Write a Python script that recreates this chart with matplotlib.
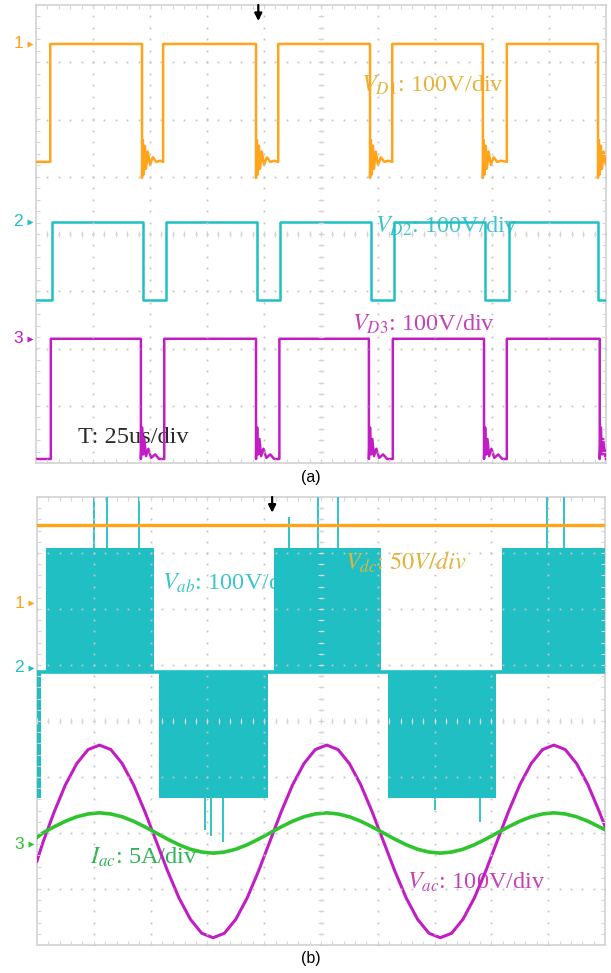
import numpy as np
import matplotlib.pyplot as plt
from matplotlib.transforms import blended_transform_factory

plt.rcParams['mathtext.fontset'] = 'stix'

# scope channel colours
ORANGE = '#ffa41b'
CYAN = '#1fbfc4'
MAGENTA = '#c21dc4'
GREEN = '#2ec42e'
GRID = '#c4c4c4'

# ---------------- panel (a): switch voltages, T = 25us/div ----------------
# time in divisions (0..10), level in divisions (-4..4)
d1_rise = [0.25, 2.23, 4.25, 6.25, 8.26]
d1_fall = [1.86, 3.86, 5.86, 7.84, 9.86]
d1_high, d1_low = 3.32, 1.26
d1_ring_dt = [0.0, 0.015, 0.03, 0.05, 0.07, 0.10, 0.14, 0.19, 0.25, 0.32]
d1_ring_dv = [-0.28, 0.38, -0.22, 0.28, -0.12, 0.18, -0.05, 0.08, 0.0, 0.02]

d2_rise = [0.28, 2.28, 4.28, 6.28, 8.30]
d2_fall = [1.88, 3.88, 5.88, 7.87, 9.86]
d2_high, d2_low = 0.21, -1.15

d3_rise = [0.26, 2.25, 4.27, 6.26, 8.26]
d3_fall = [1.84, 3.86, 5.84, 7.86, 9.89]
d3_high, d3_low = -1.83, -3.93
d3_ring_dt = [0.0, 0.02, 0.04, 0.06, 0.09, 0.13, 0.18, 0.25, 0.32]
d3_ring_dv = [0.0, 0.55, 0.08, 0.35, 0.05, 0.18, 0.02, 0.08, 0.0]

# ---------------- panel (b): converter waveforms ----------------
vdc_level = 3.5
vab_zero, vab_pos, vab_neg = 0.875, 3.09, -1.375
vab_pos_blocks = [(0.16, 2.06), (4.17, 6.06), (8.19, 10.0)]
vab_neg_blocks = [(0.0, 0.07), (2.15, 4.07), (6.18, 8.08)]
vab_up_spikes_t = [1.00, 1.23, 1.80, 4.44, 4.95, 5.30, 8.98, 9.28]
vab_up_spikes_v = [4.0, 4.0, 4.0, 3.64, 4.0, 4.0, 4.0, 4.0]
vab_dn_spikes_t = [2.96, 3.06, 3.27, 7.01, 7.80]
vab_dn_spikes_v = [-1.95, -2.06, -2.16, -1.59, -1.80]

t_ac = [0.0, 0.1, 0.3, 0.5, 0.7, 0.9, 1.1, 1.3, 1.5, 1.7, 1.9,
        2.1, 2.3, 2.5, 2.7, 2.9, 3.1, 3.3, 3.5, 3.7, 3.9,
        4.1, 4.3, 4.5, 4.7, 4.9, 5.1, 5.3, 5.5, 5.7, 5.9,
        6.1, 6.3, 6.5, 6.7, 6.9, 7.1, 7.3, 7.5, 7.7, 7.9,
        8.1, 8.3, 8.5, 8.7, 8.9, 9.1, 9.3, 9.5, 9.7, 9.9, 10.0]
v_ac = [-2.50, -2.18, -1.63, -1.14, -0.76, -0.51, -0.43, -0.51, -0.76, -1.14, -1.62,
        -2.15, -2.68, -3.16, -3.54, -3.79, -3.87, -3.79, -3.54, -3.16, -2.68,
        -2.15, -1.62, -1.14, -0.76, -0.51, -0.43, -0.51, -0.76, -1.14, -1.62,
        -2.15, -2.68, -3.16, -3.54, -3.79, -3.87, -3.79, -3.54, -3.16, -2.68,
        -2.15, -1.62, -1.14, -0.76, -0.51, -0.43, -0.51, -0.76, -1.14, -1.62, -1.88]
i_ac = [-2.08, -2.00, -1.89, -1.79, -1.71, -1.66, -1.64, -1.66, -1.71, -1.79, -1.89,
        -2.00, -2.11, -2.21, -2.29, -2.34, -2.36, -2.34, -2.29, -2.21, -2.11,
        -2.00, -1.89, -1.79, -1.71, -1.66, -1.64, -1.66, -1.71, -1.79, -1.89,
        -2.00, -2.11, -2.21, -2.29, -2.34, -2.36, -2.34, -2.29, -2.21, -2.11,
        -2.00, -1.89, -1.79, -1.71, -1.66, -1.64, -1.66, -1.71, -1.79, -1.89, -1.94]


def square(rise, fall, high, low, ring_dt=(0.0,), ring_dv=(0.0,)):
    t, v = [0.0], [low]
    for r, f in zip(rise, fall):
        t += [r, r, f]
        v += [low, high, high]
        for dt, dv in zip(ring_dt, ring_dv):
            t.append(f + dt)
            v.append(low + dv)
    t.append(10.0)
    v.append(low)
    return t, v


def graticule(ax):
    ax.set_xlim(0, 10)
    ax.set_ylim(-4, 4)
    ax.set_xticks([])
    ax.set_yticks([])
    for s in ax.spines.values():
        s.set_color('#d2d2d2')
        s.set_linewidth(1.2)
    xs = np.arange(0, 10.01, 0.2)
    ys = np.arange(-4, 4.01, 0.2)
    dot = dict(ls='none', marker='s', ms=1.3, mec='none', color=GRID, zorder=6)
    for i in range(1, 10):
        ax.plot(np.full(len(ys), i), ys, **dot)
    for j in range(-3, 4):
        ax.plot(xs, np.full(len(xs), j), **dot)
    kw = dict(color='#d6d6d6', lw=0.8, zorder=6)
    # centre cross minor ticks
    ax.vlines(xs, -0.045, 0.045, **kw)
    ax.hlines(ys, 4.955, 5.045, **kw)
    # border ticks
    ax.vlines(xs, -4, -3.93, **kw)
    ax.vlines(xs, 3.93, 4, **kw)
    ax.hlines(ys, 0, 0.07, **kw)
    ax.hlines(ys, 9.93, 10, **kw)


def channel_mark(ax, label, level, color):
    tr = blended_transform_factory(ax.transAxes, ax.transData)
    ax.text(-0.031, level, label, transform=tr, color=color, fontsize=12.5,
            family='Liberation Sans', ha='center', va='center', clip_on=False)
    ax.plot([-0.011], [level], transform=tr, marker='>', ms=5, color=color,
            mec='none', clip_on=False)


def trigger(ax, t):
    ax.annotate('', xy=(t, 3.72), xytext=(t, 4.0),
                arrowprops=dict(arrowstyle='-|>', color='black', lw=1.6,
                                mutation_scale=11, shrinkA=0, shrinkB=0),
                annotation_clip=False, zorder=8)


fig = plt.figure(figsize=(6.11, 9.73), dpi=100)
ax1 = fig.add_axes([36 / 611, 1 - 463 / 973, 570 / 611, 458 / 973])
ax2 = fig.add_axes([37 / 611, 1 - 945 / 973, 568 / 611, 448 / 973])

# ---- panel (a)
graticule(ax1)
t, v = square(d1_rise, d1_fall, d1_high, d1_low, d1_ring_dt, d1_ring_dv)
ax1.plot(t, v, color=ORANGE, lw=1.8, zorder=5)
t, v = square(d2_rise, d2_fall, d2_high, d2_low)
ax1.plot(t, v, color=CYAN, lw=1.8, zorder=5)
t, v = square(d3_rise, d3_fall, d3_high, d3_low, d3_ring_dt, d3_ring_dv)
ax1.plot(t, v, color=MAGENTA, lw=1.8, zorder=5)

channel_mark(ax1, '1', d1_high, ORANGE)
channel_mark(ax1, '2', d2_high, CYAN)
channel_mark(ax1, '3', d3_high, MAGENTA)
trigger(ax1, 3.9)

lab = dict(family='Liberation Serif', fontsize=17.5, va='center', zorder=3)
ax1.text(5.70, 2.6, r'$V_{D1}$: 100V/div', color='#e2b43c', **lab)
ax1.text(5.95, 0.14, r'$V_{D2}$: 100V/div', color='#3cc4cc', **lab)
ax1.text(5.54, -1.57, r'$V_{D3}$: 100V/div', color='#c441b8', **lab)
ax1.text(0.74, -3.55, 'T: 25us/div', color='#2a2a2a', **lab)

# ---- panel (b)
graticule(ax2)
ax2.plot([0, 10], [vdc_level, vdc_level], color=ORANGE, lw=2.4, zorder=5)
ax2.plot([0, 10], [vab_zero, vab_zero], color=CYAN, lw=2.6, zorder=4)
for a, b in vab_pos_blocks:
    ax2.fill_between([a, b], vab_zero, vab_pos, color=CYAN, lw=0, zorder=4)
for a, b in vab_neg_blocks:
    ax2.fill_between([a, b], vab_neg, vab_zero, color=CYAN, lw=0, zorder=4)
ax2.vlines(vab_up_spikes_t, vab_pos, vab_up_spikes_v, color=CYAN, lw=1.3, zorder=4)
ax2.vlines(vab_dn_spikes_t, vab_dn_spikes_v, vab_neg, color=CYAN, lw=1.3, zorder=4)
ax2.plot(t_ac, v_ac, color=MAGENTA, lw=2.2, zorder=5)
ax2.plot(t_ac, i_ac, color=GREEN, lw=2.6, zorder=5)

channel_mark(ax2, '1', 2.1, ORANGE)
channel_mark(ax2, '2', 0.95, CYAN)
channel_mark(ax2, '3', -2.2, GREEN)
trigger(ax2, 4.14)

ax2.text(5.42, 2.84, r'$V_{dc}$: $50V/div$', color='#e2b43c',
         **{**lab, 'zorder': 7})
ax2.text(2.2, 2.46, r'$V_{ab}$: 100V/div', color='#3cc4cc', **lab)
ax2.text(0.93, -2.43, r'$I_{ac}$: 5A/div', color='#2fb455', **lab)
ax2.text(6.51, -2.88, r'$V_{ac}$: 100V/div', color='#c441b8', **lab)

fig.text(0.509, 1 - 478 / 973, '(a)', ha='center', va='center',
         family='Liberation Sans', fontsize=11.5)
fig.text(0.509, 1 - 958 / 973, '(b)', ha='center', va='center',
         family='Liberation Sans', fontsize=11.5)

fig.savefig('out.png', dpi=100)
